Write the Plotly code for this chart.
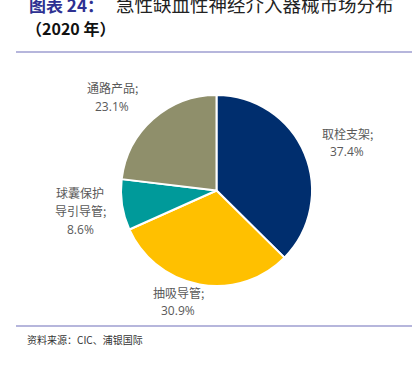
import plotly.graph_objects as go

categories = ["取栓支架", "抽吸导管", "球囊保护导引导管", "通路产品"]
label_lines = [["取栓支架;"], ["抽吸导管;"], ["球囊保护", "导引导管;"], ["通路产品;"]]
values = [37.4, 30.9, 8.6, 23.1]
colors = ["#002E6E", "#FFC000", "#009A9A", "#8F8F6B"]

title_prefix = "图表 24："
title_rest = "急性缺血性神经介入器械市场分布"
title_line2 = "（2020 年）"
source = "资料来源：CIC、浦银国际"

W, H = 418, 368

def px(x):
    return x / W

def py(y):
    return 1 - y / H

fig = go.Figure(go.Pie(
    labels=categories, values=values, sort=False, direction="clockwise",
    rotation=0, textinfo="none", hoverinfo="label+percent",
    marker=dict(colors=colors, line=dict(color="white", width=2)),
    domain=dict(x=[px(121), px(312)], y=[py(286), py(95)]),
    showlegend=False,
))

# label anchor positions (pixel) for each slice: (x center, first line y)
label_pos = [(347, 133), (178, 292), (80, 192), (112, 88)]
line_h = 18.5
ann = []
for (lx, ly), lines, v in zip(label_pos, label_lines, values):
    for i, t in enumerate(lines + [f"{v}%"]):
        is_pct = i == len(lines)
        ann.append(dict(
            x=px(lx), y=py(ly + i * line_h), xref="paper", yref="paper",
            text=t, showarrow=False, xanchor="center", yanchor="middle",
            font=dict(family="Noto Sans CJK SC" if not is_pct else "Open Sans, Noto Sans CJK SC",
                      size=12, color="#595959"),
        ))

ann.append(dict(x=px(27), y=py(4), xref="paper", yref="paper", xanchor="left", yanchor="middle",
                showarrow=False, text=f"<b>{title_prefix}</b>",
                font=dict(family="Noto Sans CJK SC", size=17, color="#2E3192")))
ann.append(dict(x=px(114), y=py(4), xref="paper", yref="paper", xanchor="left", yanchor="middle",
                showarrow=False, text=title_rest,
                font=dict(family="Noto Sans CJK SC", size=18.5, color="#222222")))
ann.append(dict(x=px(24), y=py(28), xref="paper", yref="paper", xanchor="left", yanchor="middle",
                showarrow=False, text=f"<b>{title_line2}</b>",
                font=dict(family="Noto Sans CJK SC", size=16, color="#111111")))
ann.append(dict(x=px(25), y=py(339), xref="paper", yref="paper", xanchor="left", yanchor="middle",
                showarrow=False, text=source,
                font=dict(family="Noto Sans CJK SC", size=10, color="#333333")))

shapes = [
    dict(type="line", xref="paper", yref="paper", x0=px(16), x1=px(412), y0=py(52), y1=py(52),
         line=dict(color="#9E9ED0", width=1.5)),
    dict(type="line", xref="paper", yref="paper", x0=px(16), x1=px(412), y0=py(326), y1=py(326),
         line=dict(color="#9E9ED0", width=1.5)),
]

fig.update_layout(
    width=W, height=H, margin=dict(l=0, r=0, t=0, b=0),
    paper_bgcolor="white", plot_bgcolor="white",
    annotations=ann, shapes=shapes,
)

fig.write_html("out.html", config={"displayModeBar": False},
               post_script="document.body.style.margin='0';document.body.style.padding='0';")
